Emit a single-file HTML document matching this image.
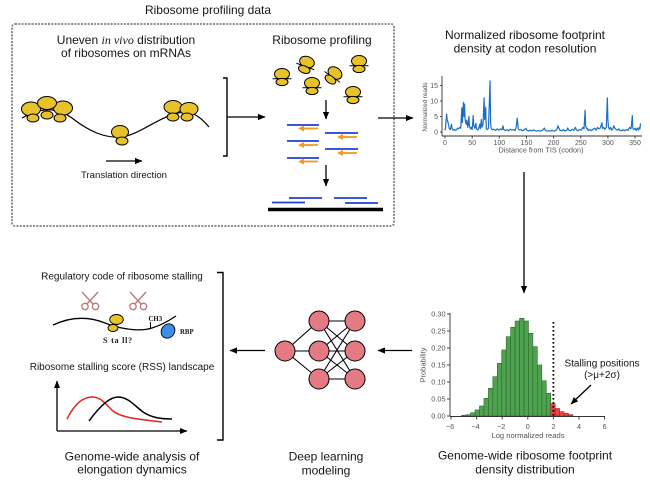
<!DOCTYPE html>
<html><head><meta charset="utf-8"><style>
html,body{margin:0;padding:0;background:#fff;}
svg{display:block;}
text{font-family:"Liberation Sans",Arial,sans-serif;fill:#151515;}
.ser{font-family:"Liberation Serif",serif;}
.tk{fill:#555;}
</style></head><body>
<svg width="650" height="481" viewBox="0 0 650 481" xmlns="http://www.w3.org/2000/svg">
<defs>
<marker id="ah" markerWidth="9" markerHeight="9" refX="7" refY="4" orient="auto" markerUnits="userSpaceOnUse"><path d="M0,0.9 L7.5,4 L0,7.1 Z" fill="#000"/></marker>
<marker id="ah2" markerWidth="9" markerHeight="9" refX="7" refY="4" orient="auto" markerUnits="userSpaceOnUse"><path d="M0,1 L7.5,4 L0,7 Z" fill="#000"/></marker>
<g id="rib">
<ellipse cx="0" cy="0" rx="7.5" ry="5.5" fill="#E8C22A" stroke="#000" stroke-width="1"/>
<line x1="-9.5" y1="4.8" x2="9.5" y2="4.8" stroke="#000" stroke-width="1"/>
<ellipse cx="0" cy="8" rx="6" ry="3.6" fill="#E8C22A" stroke="#000" stroke-width="1"/>
</g>
<g id="sc" fill="none" stroke="#bf7575" stroke-width="1.3">
<circle cx="-5" cy="5.5" r="3.2"/><circle cx="5.5" cy="5.5" r="3.2"/>
<line x1="-3" y1="3" x2="8" y2="-9"/><line x1="3" y1="3" x2="-8" y2="-9"/>
</g>
</defs>

<!-- ===== Top-left: Ribosome profiling data ===== -->
<text x="208" y="14" font-size="12" text-anchor="middle">Ribosome profiling data</text>
<rect x="12" y="24" width="382" height="202" rx="3" fill="none" stroke="#8c8c8c" stroke-width="2" stroke-dasharray="2 1.3"/>

<text x="126" y="44" font-size="12" text-anchor="middle">Uneven <tspan class="ser" font-style="italic">in vivo</tspan> distribution</text>
<text x="126" y="57" font-size="12" text-anchor="middle">of ribosomes on mRNAs</text>

<path d="M22,118 C40,108 55,106 72,118 C90,132 105,138 120,137 C140,136 160,114 185,112 C195,112 203,120 209,127" fill="none" stroke="#000" stroke-width="1.2"/>
<g fill="#E8C22A" stroke="#000" stroke-width="1">
<ellipse cx="31" cy="109" rx="9.5" ry="7"/>
<ellipse cx="63" cy="108" rx="9.5" ry="7"/>
<ellipse cx="47" cy="103" rx="9.5" ry="6.5"/>
<ellipse cx="33" cy="118" rx="6" ry="4"/>
<ellipse cx="47" cy="115" rx="6" ry="4"/>
<ellipse cx="60" cy="118" rx="6" ry="4"/>
<ellipse cx="120" cy="132" rx="8.5" ry="6.5"/>
<ellipse cx="122" cy="141" rx="6" ry="4"/>
<ellipse cx="173" cy="107" rx="9" ry="6.5"/>
<ellipse cx="189" cy="109" rx="9" ry="6.5"/>
<ellipse cx="173" cy="117" rx="6" ry="4"/>
<ellipse cx="187" cy="117" rx="6" ry="4"/>
</g>
<line x1="106" y1="161" x2="142" y2="161" stroke="#000" stroke-width="1.3" marker-end="url(#ah)"/>
<text x="124" y="178" font-size="9.6" text-anchor="middle">Translation direction</text>

<!-- bracket -->
<path d="M223,78 H227 V156 H223" fill="none" stroke="#000" stroke-width="1.4"/>
<line x1="227" y1="117" x2="265" y2="117" stroke="#000" stroke-width="1.3" marker-end="url(#ah)"/>

<text x="322" y="44" font-size="12" text-anchor="middle">Ribosome profiling</text>
<use href="#rib" transform="translate(282,74)"/>
<use href="#rib" transform="translate(307,62) rotate(20)"/>
<use href="#rib" transform="translate(359,61)"/>
<use href="#rib" transform="translate(335,73) rotate(35)"/>
<use href="#rib" transform="translate(312,83)"/>
<use href="#rib" transform="translate(353,92)"/>

<line x1="326" y1="100" x2="326" y2="119" stroke="#000" stroke-width="1.3" marker-end="url(#ah)"/>
<g stroke="#1f3fd8" stroke-width="1.8">
<line x1="287" y1="125" x2="319" y2="125"/>
<line x1="287" y1="141" x2="319" y2="141"/>
<line x1="287" y1="158" x2="319" y2="158"/>
<line x1="325" y1="133" x2="358" y2="133"/>
<line x1="325" y1="149" x2="358" y2="149"/>
</g>
<g fill="#F39A1E" stroke="#F39A1E" stroke-width="1.8">
<line x1="318" y1="128.5" x2="303" y2="128.5"/><path d="M298,128.5 L304,125.5 L304,131.5Z" stroke="none"/>
<line x1="318" y1="145" x2="303" y2="145"/><path d="M298,145 L304,142 L304,148Z" stroke="none"/>
<line x1="318" y1="161.5" x2="303" y2="161.5"/><path d="M298,161.5 L304,158.5 L304,164.5Z" stroke="none"/>
<line x1="357" y1="137" x2="342" y2="137"/><path d="M337,137 L343,134 L343,140Z" stroke="none"/>
<line x1="357" y1="153" x2="342" y2="153"/><path d="M337,153 L343,150 L343,156Z" stroke="none"/>
</g>
<line x1="326" y1="165" x2="326" y2="186" stroke="#000" stroke-width="1.3" marker-end="url(#ah)"/>
<g stroke="#1f3fd8" stroke-width="1.8">
<line x1="289" y1="198" x2="322" y2="198"/>
<line x1="272" y1="202.5" x2="305" y2="202.5"/>
<line x1="334" y1="198" x2="367" y2="198"/>
<line x1="345" y1="203" x2="378" y2="203"/>
</g>
<line x1="268" y1="209.5" x2="383" y2="209.5" stroke="#000" stroke-width="3.5"/>

<line x1="378" y1="118" x2="413" y2="118" stroke="#000" stroke-width="1.3" marker-end="url(#ah)"/>

<!-- ===== Top-right chart ===== -->
<text x="525" y="39" font-size="12" text-anchor="middle">Normalized ribosome footprint</text>
<text x="525" y="52.5" font-size="12" text-anchor="middle">density at codon resolution</text>
<g stroke="#333" stroke-width="0.9">
<line x1="442" y1="76" x2="442" y2="136"/>
<line x1="442" y1="136" x2="642" y2="136"/>
<line x1="440" y1="132" x2="442" y2="132"/><line x1="440" y1="116.5" x2="442" y2="116.5"/><line x1="440" y1="101" x2="442" y2="101"/><line x1="440" y1="85.5" x2="442" y2="85.5"/>
<line x1="445" y1="136" x2="445" y2="138.5"/><line x1="472.2" y1="136" x2="472.2" y2="138.5"/><line x1="499.3" y1="136" x2="499.3" y2="138.5"/><line x1="526.5" y1="136" x2="526.5" y2="138.5"/><line x1="553.6" y1="136" x2="553.6" y2="138.5"/><line x1="580.8" y1="136" x2="580.8" y2="138.5"/><line x1="607.9" y1="136" x2="607.9" y2="138.5"/><line x1="635" y1="136" x2="635" y2="138.5"/>
</g>
<g font-size="7" class="tk" text-anchor="end">
<text class="tk" x="438" y="134.5">0</text><text class="tk" x="438" y="119">5</text><text class="tk" x="438" y="103.5">10</text><text class="tk" x="438" y="88">15</text>
</g>
<g font-size="7" text-anchor="middle">
<text class="tk" x="445" y="145.2">0</text><text class="tk" x="472.2" y="145.2">50</text><text class="tk" x="499.3" y="145.2">100</text><text class="tk" x="526.5" y="145.2">150</text><text class="tk" x="553.6" y="145.2">200</text><text class="tk" x="580.8" y="145.2">250</text><text class="tk" x="607.9" y="145.2">300</text><text class="tk" x="635" y="145.2">350</text>
</g>
<text class="tk" x="541" y="152.3" font-size="7.3" text-anchor="middle">Distance from TIS (codon)</text>
<text class="tk" x="0" y="0" font-size="6.3" text-anchor="middle" transform="translate(427,107) rotate(-90)">Normalized reads</text>
<polyline transform="translate(445,132) scale(0.543,-3.1)" vector-effect="non-scaling-stroke" fill="none" stroke="#1b6ec2" stroke-width="1.2" stroke-linejoin="round" points="0,0.5 1,1.5 3,5.8 4,4 5,3.5 7,2 8,1 10,0.8 12,2.5 13,1.2 15,0.6 17,0.8 19,0.5 21,0.7 23,1.2 25,1 27,1.5 29,1.2 31,7.8 32,3 34,9.5 35,5 36,9 37,4 39,2.5 40,3.8 42,1.5 44,5 45,2 47,1 48,1.5 50,0.8 52,5.3 53,2 55,1.2 57,2.8 58,1 60,0.6 62,1.2 64,2.5 65,1 67,4 68,1.5 70,2.5 72,11 73,4 75,8 76,1 78,0.8 80,1.2 83,16.5 84,3 85,1.2 87,0.7 90,0.9 93,0.5 96,1 99,0.6 102,1 105,0.7 107,2 108,0.8 111,0.5 114,0.7 117,0.4 120,0.9 123,0.6 126,0.8 129,0.5 131,1.5 133,4.5 135,1 137,0.6 140,0.8 143,0.4 146,0.7 149,1.2 151,0.5 154,0.3 157,0.6 160,0.3 163,0.7 166,0.4 169,0.3 172,0.5 175,0.3 178,0.4 181,0.8 183,1.3 185,0.5 188,0.3 191,0.4 194,0.3 197,0.5 200,0.3 203,0.4 206,0.8 208,2 210,1.2 212,0.5 215,0.4 218,0.8 221,0.3 224,0.5 226,1.3 228,0.6 231,0.4 234,0.9 237,0.5 240,1.5 242,0.7 245,0.4 248,0.8 251,0.6 254,1.5 256,1 258,7 259,2 261,1 262,1.2 264,0.5 267,0.8 270,0.4 273,1 276,1.2 278,0.6 281,1.5 283,1 286,1.3 289,3 290,1.2 292,1.5 294,0.8 297,1.5 299,11 300,4 301,1.5 303,0.9 305,1.5 307,0.6 309,1 311,2 313,1.2 315,0.8 318,0.6 320,1 322,0.5 325,0.4 328,0.7 331,0.4 334,0.8 337,0.5 340,1.5 342,1 343,1.5 345,5.3 346,1.2 348,0.8 350,1.2 352,0.5 354,1.3 356,0.6 358,1.5 359,1 360,2.8"/>

<line x1="524" y1="172" x2="524" y2="293" stroke="#000" stroke-width="1.3" marker-end="url(#ah)"/>

<!-- ===== Histogram ===== -->
<g fill="#4FA24F" stroke="#2c6a2c" stroke-width="0.6">
<rect x="461.7" y="415.2" width="4.45" height="0.8"/>
<rect x="466.15" y="414.7" width="4.45" height="1.3"/>
<rect x="470.6" y="412.7" width="4.45" height="3.3"/>
<rect x="475.05" y="410" width="4.45" height="6"/>
<rect x="479.5" y="406" width="4.45" height="10"/>
<rect x="483.95" y="398.3" width="4.45" height="17.7"/>
<rect x="488.4" y="388.3" width="4.45" height="27.7"/>
<rect x="492.85" y="376.7" width="4.45" height="39.3"/>
<rect x="497.3" y="363.3" width="4.45" height="52.7"/>
<rect x="501.75" y="350" width="4.45" height="66"/>
<rect x="506.2" y="336.7" width="4.45" height="79.3"/>
<rect x="510.65" y="327.3" width="4.45" height="88.7"/>
<rect x="515.1" y="321" width="4.45" height="95"/>
<rect x="519.55" y="318.3" width="4.45" height="97.7"/>
<rect x="524" y="321" width="4.45" height="95"/>
<rect x="528.45" y="333.3" width="4.45" height="82.7"/>
<rect x="532.9" y="346.7" width="4.45" height="69.3"/>
<rect x="537.35" y="365" width="4.45" height="51"/>
<rect x="541.8" y="380.7" width="4.45" height="35.3"/>
<rect x="546.25" y="393.3" width="4.45" height="22.7"/>
</g>
<g fill="#EE4242" stroke="#a82222" stroke-width="0.6">
<rect x="550.7" y="403.5" width="4.45" height="12.5"/>
<rect x="555.15" y="408.5" width="4.45" height="7.5"/>
<rect x="559.6" y="411.7" width="4.45" height="4.3"/>
<rect x="564.05" y="413.3" width="4.45" height="2.7"/>
<rect x="568.5" y="414.7" width="4.45" height="1.3"/>
</g>
<g stroke="#333" stroke-width="0.9">
<line x1="450" y1="313" x2="450" y2="416.5"/>
<line x1="450" y1="416.5" x2="605" y2="416.5"/>
<line x1="447" y1="314" x2="450" y2="314"/><line x1="447" y1="331" x2="450" y2="331"/><line x1="447" y1="348" x2="450" y2="348"/><line x1="447" y1="365" x2="450" y2="365"/><line x1="447" y1="382" x2="450" y2="382"/><line x1="447" y1="399" x2="450" y2="399"/><line x1="447" y1="416" x2="450" y2="416"/>
<line x1="451" y1="416.5" x2="451" y2="419.5"/><line x1="476.6" y1="416.5" x2="476.6" y2="419.5"/><line x1="502.2" y1="416.5" x2="502.2" y2="419.5"/><line x1="527.8" y1="416.5" x2="527.8" y2="419.5"/><line x1="553.4" y1="416.5" x2="553.4" y2="419.5"/><line x1="579" y1="416.5" x2="579" y2="419.5"/><line x1="604.6" y1="416.5" x2="604.6" y2="419.5"/>
</g>
<line x1="553.4" y1="322" x2="553.4" y2="416" stroke="#000" stroke-width="1.8" stroke-dasharray="1.6 2.4"/>
<g font-size="7.3" text-anchor="end">
<text class="tk" x="445.5" y="316.5">0.30</text><text class="tk" x="445.5" y="333.5">0.25</text><text class="tk" x="445.5" y="350.5">0.20</text><text class="tk" x="445.5" y="367.5">0.15</text><text class="tk" x="445.5" y="384.5">0.10</text><text class="tk" x="445.5" y="401.5">0.05</text><text class="tk" x="445.5" y="418.5">0.00</text>
</g>
<g font-size="7.3" text-anchor="middle">
<text class="tk" x="450" y="429">−6</text><text class="tk" x="475.6" y="429">−4</text><text class="tk" x="501.2" y="429">−2</text><text class="tk" x="527.8" y="429">0</text><text class="tk" x="553.4" y="429">2</text><text class="tk" x="579" y="429">4</text><text class="tk" x="604.6" y="429">6</text>
</g>
<text class="tk" x="528" y="438" font-size="7.6" text-anchor="middle">Log normalized reads</text>
<text class="tk" x="0" y="0" font-size="7.5" text-anchor="middle" transform="translate(425.5,365) rotate(-90)">Probability</text>
<text x="602" y="366.5" font-size="10" text-anchor="middle">Stalling positions</text>
<text x="602" y="378" font-size="10" text-anchor="middle">(&gt;μ+2σ)</text>
<line x1="591" y1="385" x2="571" y2="404" stroke="#000" stroke-width="1.3" marker-end="url(#ah)"/>
<text x="525" y="459.5" font-size="12" text-anchor="middle">Genome-wide ribosome footprint</text>
<text x="525" y="473.5" font-size="12" text-anchor="middle">density distribution</text>

<line x1="412" y1="350.5" x2="378" y2="350.5" stroke="#000" stroke-width="1.3" marker-end="url(#ah)"/>

<!-- ===== Neural net ===== -->
<g stroke="#000" stroke-width="1.1">
<line x1="285" y1="351" x2="319" y2="321"/><line x1="285" y1="351" x2="319" y2="351"/><line x1="285" y1="351" x2="319" y2="379"/>
<line x1="319" y1="321" x2="355" y2="321"/><line x1="319" y1="321" x2="355" y2="351"/><line x1="319" y1="321" x2="355" y2="379"/>
<line x1="319" y1="351" x2="355" y2="321"/><line x1="319" y1="351" x2="355" y2="351"/><line x1="319" y1="351" x2="355" y2="379"/>
<line x1="319" y1="379" x2="355" y2="321"/><line x1="319" y1="379" x2="355" y2="351"/><line x1="319" y1="379" x2="355" y2="379"/>
</g>
<g fill="#E47A83" stroke="#000" stroke-width="1">
<circle cx="285" cy="351" r="10"/>
<circle cx="319" cy="321" r="10"/><circle cx="319" cy="351" r="10"/><circle cx="319" cy="379" r="10"/>
<circle cx="355" cy="321" r="10"/><circle cx="355" cy="351" r="10"/><circle cx="355" cy="379" r="10"/>
</g>
<text x="326" y="460.3" font-size="12" text-anchor="middle">Deep learning</text>
<text x="326" y="474.6" font-size="12" text-anchor="middle">modeling</text>

<line x1="265" y1="350.5" x2="230" y2="350.5" stroke="#000" stroke-width="1.3" marker-end="url(#ah)"/>

<!-- ===== Bottom-left ===== -->
<path d="M217,272.5 H223 V440 H217" fill="none" stroke="#000" stroke-width="1.4"/>
<text x="122" y="279.5" font-size="10" text-anchor="middle">Regulatory code of ribosome stalling</text>
<use href="#sc" transform="translate(90,301)"/>
<use href="#sc" transform="translate(138,301)"/>
<path d="M53,325 C68,318 85,315 105,323 C120,329 140,332 152,328 C162,325 170,320 176,316" fill="none" stroke="#000" stroke-width="1.3"/>
<ellipse cx="116.5" cy="319.5" rx="6.8" ry="5" fill="#E8C22A" stroke="#000" stroke-width="0.9"/>
<ellipse cx="113" cy="328" rx="5" ry="3.5" fill="#E8C22A" stroke="#000" stroke-width="0.9"/>
<line x1="150.5" y1="322" x2="150.5" y2="329" stroke="#000" stroke-width="1"/>
<text class="ser" x="148.5" y="321" font-size="6.8" font-weight="bold">CH3</text>
<ellipse cx="168" cy="331" rx="6.5" ry="7.5" transform="rotate(35 168 331)" fill="#3D8FE6" stroke="#000" stroke-width="0.9"/>
<text class="ser" x="180" y="334" font-size="6.8" font-weight="bold">RBP</text>
<text class="ser" x="118" y="343" font-size="8" font-weight="bold" text-anchor="middle" letter-spacing="0.8">S ta ll?</text>

<text x="122" y="370" font-size="10" text-anchor="middle">Ribosome stalling score (RSS) landscape</text>
<line x1="57" y1="431" x2="57" y2="381" stroke="#000" stroke-width="1.3" marker-end="url(#ah2)"/>
<line x1="57" y1="431" x2="187" y2="431" stroke="#000" stroke-width="1.3" marker-end="url(#ah2)"/>
<path d="M67,419 C74,405 82,397 92,397 C102,397 106,405 113,411 C120,417 135,419 162,422" fill="none" stroke="#E8231E" stroke-width="1.5"/>
<path d="M89,421 C97,410 108,397 118,397 C128,397 135,406 143,412 C152,418 162,419 172,419" fill="none" stroke="#000" stroke-width="1.5"/>
<text x="132" y="460.3" font-size="12" text-anchor="middle">Genome-wide analysis of</text>
<text x="132" y="473.5" font-size="12" text-anchor="middle">elongation dynamics</text>
</svg>
</body></html>
